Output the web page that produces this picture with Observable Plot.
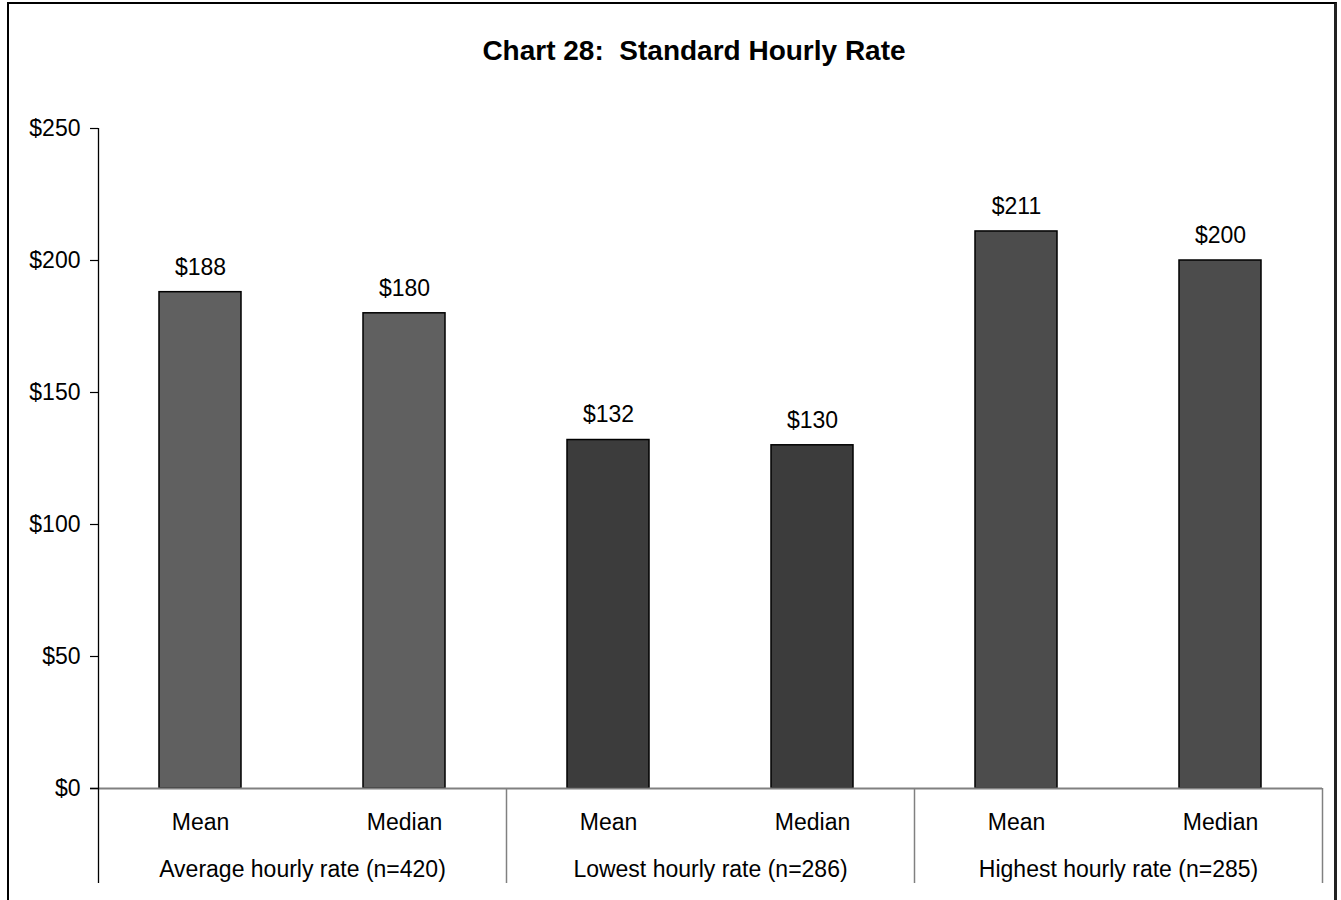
<!DOCTYPE html>
<html>
<head>
<meta charset="utf-8">
<script src="https://cdn.jsdelivr.net/npm/d3@7"></script>
<script src="https://cdn.jsdelivr.net/npm/@observablehq/plot@0.6"></script>
<style>
  html, body { margin: 0; padding: 0; background: #fff; overflow: hidden; width: 1341px; height: 900px; }
  #frame { position: absolute; left: 7px; top: 2px; width: 1330px; height: 1000px; box-sizing: border-box;
           border-left: 2px solid #000; border-top: 2px solid #000; border-right: 3px solid #222; }
  #title { position: absolute; left: 394px; top: 37px; width: 600px; text-align: center;
           font-family: "Liberation Sans", Arial, sans-serif; font-weight: bold; font-size: 28px; line-height: 28px; color: #000; }
  #chart { position: absolute; left: 0; top: 100px; }
</style>
</head>
<body>
<div id="frame"></div>
<div id="title">Chart 28:&nbsp; Standard Hourly Rate</div>
<div id="chart"></div>
<script>
const groups = ["Average hourly rate (n=420)", "Lowest hourly rate (n=286)", "Highest hourly rate (n=285)"];
const stats = ["Mean", "Median"];
const meanValues = [188, 132, 211];
const medianValues = [180, 130, 200];
const groupColors = ["#606060", "#3c3c3c", "#4c4c4c"];
const yTicks = [0, 50, 100, 150, 200, 250];

const statValues = {Mean: meanValues, Median: medianValues};
const data = [];
groups.forEach((g, gi) => {
  stats.forEach(s => {
    data.push({key: g + "|" + s, group: g, stat: s, value: statValues[s][gi], color: groupColors[gi]});
  });
});
const keys = data.map(d => d.key);
const groupStarts = groups.map(g => ({name: g, key: g + "|" + stats[0]}));
const lastKey = keys[keys.length - 1];

const font = "'Liberation Sans', Arial, sans-serif";
const half = 102;

const chart = Plot.plot({
  width: 1341,
  height: 800,
  marginTop: 28,
  marginBottom: 112,
  marginLeft: 98,
  marginRight: 19,
  style: {fontFamily: font, fontSize: "23px", color: "#000", background: "transparent", overflow: "visible"},
  x: {domain: keys, paddingInner: 0.6, paddingOuter: 0.3, axis: null},
  y: {domain: [0, 250], axis: null},
  marks: [
    Plot.barY(data, {x: "key", y: "value", fill: d => d.color, stroke: "#000", strokeWidth: 1.5}),
    Plot.ruleY([0], {stroke: "#808080", strokeWidth: 2, insetLeft: -8}),
    Plot.ruleX(groupStarts.slice(1), {x: "key", dx: -half, stroke: "#808080", strokeWidth: 1.5, insetTop: 660, insetBottom: -95}),
    Plot.ruleX([lastKey], {dx: half, stroke: "#808080", strokeWidth: 1.5, insetTop: 660, insetBottom: -95}),
    Plot.ruleX([keys[0]], {dx: -half, stroke: "#000", strokeWidth: 1.3, insetBottom: -95}),
    Plot.axisY({ticks: yTicks, tickFormat: d => "$" + d, tickSize: 8, tickPadding: 10, fontSize: 23, stroke: "#000", strokeWidth: 1.2, label: null}),
    Plot.axisX({tickFormat: d => d.split("|")[1], tickSize: 0, tickPadding: 25, fontSize: 23, label: null}),
    Plot.text(data, {x: "key", y: "value", text: d => "$" + d.value, lineAnchor: "top", dy: -34, fontSize: 23, fill: "#000"}),
    Plot.text(groupStarts, {x: "key", text: "name", frameAnchor: "bottom", lineAnchor: "top", dx: half, dy: 72, fontSize: 23, fill: "#000"})
  ]
});
document.getElementById("chart").appendChild(chart);
</script>
</body>
</html>
